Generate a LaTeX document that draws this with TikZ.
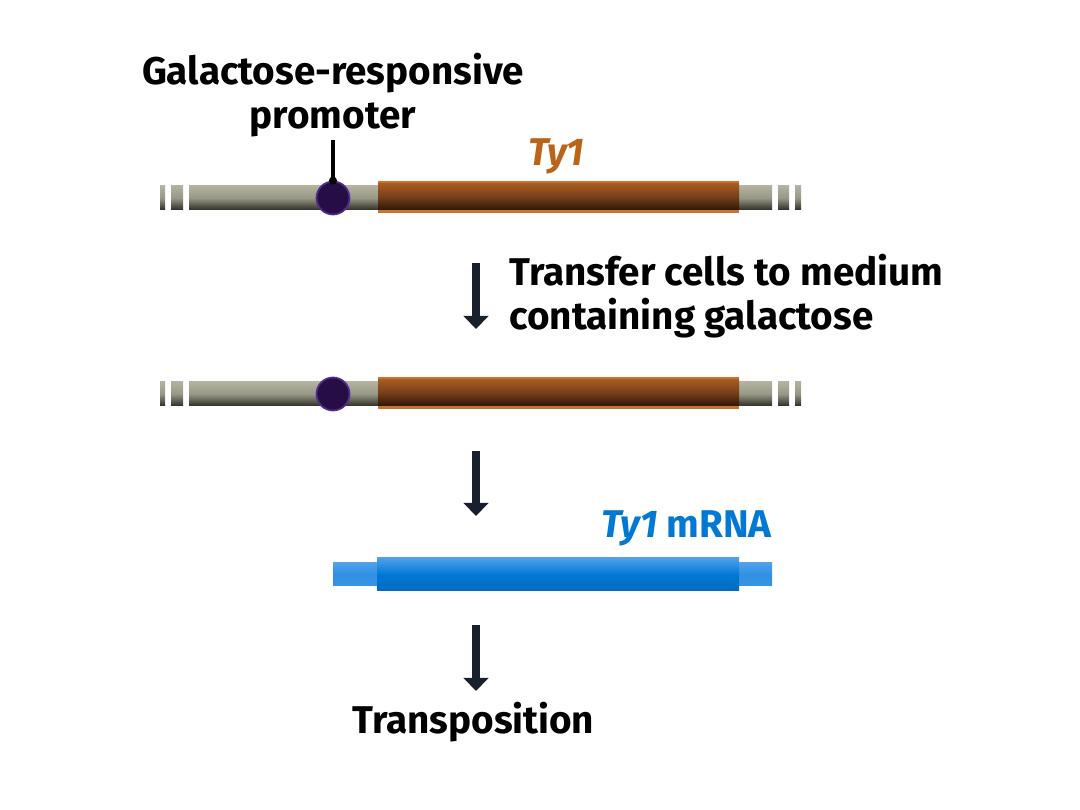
\documentclass[tikz,border=0pt]{standalone}
\usepackage{fontspec}
\setmainfont{Fira Sans}
\usetikzlibrary{arrows.meta,positioning}

\definecolor{dnaLight}{RGB}{178,178,158}
\definecolor{dnaDark}{RGB}{45,45,38}
\definecolor{tyOrange}{RGB}{205,115,40}
\definecolor{tyBrown}{RGB}{165,90,35}
\definecolor{tyDark}{RGB}{45,22,6}
\definecolor{promPurple}{RGB}{38,14,68}
\definecolor{promRim}{RGB}{80,45,140}
\definecolor{rnaBlue}{RGB}{0,120,212}
\definecolor{rnaLight}{RGB}{80,160,235}
\definecolor{arrowInk}{RGB}{25,32,45}
\definecolor{tyLabel}{RGB}{185,100,25}

\begin{document}
\begin{tikzpicture}[
    x=0.02cm, y=-0.02cm,
    dna/.style={top color=dnaLight, bottom color=dnaDark, middle color=dnaLight!80!dnaDark, shading angle=0},
    ty/.style={top color=tyBrown, bottom color=tyDark, middle color=tyBrown!60!tyDark},
    rnathin/.style={top color=rnaLight, bottom color=rnaLight!70!rnaBlue, middle color=rnaLight!60!rnaBlue},
    rnathick/.style={top color=rnaLight, bottom color=rnaBlue!90!black, middle color=rnaBlue},
    promoter/.style={circle, fill=promPurple, draw=promRim, line width=1pt, minimum size=33*0.02cm, inner sep=0pt},
    label/.style={font=\bfseries\fontsize{22}{25}\selectfont, align=left, inner sep=0pt},
    arrow/.style={-{Triangle[width=14pt, length=7.5pt]}, line width=4.2pt, draw=arrowInk}
]
% frame
\useasboundingbox (0,0) rectangle (1080,810);

% DNA before induction
\foreach \xa/\xb in {160/165, 171/183, 189/378, 739/772, 778/789, 795/801}
  \shade[dna] (\xa,186) rectangle (\xb,210);
\fill[tyOrange] (378,181) rectangle (739,213);
\shade[ty] (378,184) rectangle (739,210);
\node[promoter] (prom1) at (333,198) {};

% DNA after induction
\foreach \xa/\xb in {160/165, 171/183, 189/378, 739/772, 778/789, 795/801}
  \shade[dna] (\xa,382) rectangle (\xb,406);
\fill[tyOrange] (378,377) rectangle (739,409);
\shade[ty] (378,380) rectangle (739,406);
\node[promoter] (prom2) at (333,394) {};

% mRNA
\shade[rnathin] (333,563) rectangle (772,586);
\shade[rnathick] (377,558) rectangle (739,591);

% Labels
\node[label, align=center] (promlabel) at (333,95) {Galactose-responsive\\promoter};
\node[label, text=tyLabel, anchor=west] (tylabel) at (528,156) {\itshape Ty1};
\node[label, anchor=west] (transfer) at (509,296) {Transfer cells to medium\\containing galactose};
\node[label, text=rnaBlue, anchor=east] (rnalabel) at (772,528) {\itshape Ty1\upshape{} mRNA};
\node[label, anchor=west] (transpo) at (352,722) {Transposition};

% promoter pointer
\coordinate (pin) at (333,140);
\draw[line width=2pt] (pin) -- (prom1.north);
\fill (prom1.north) circle (4);

% Arrows
\coordinate (a1) at (476,263);
\coordinate (b1) at (476,329);
\coordinate (a2) at (476,451);
\coordinate (b2) at (476,516);
\coordinate (a3) at (476,625);
\coordinate (b3) at (476,691);
\draw[arrow] (a1) -- (b1);
\draw[arrow] (a2) -- (b2);
\draw[arrow] (a3) -- (b3);

\end{tikzpicture}
\end{document}
